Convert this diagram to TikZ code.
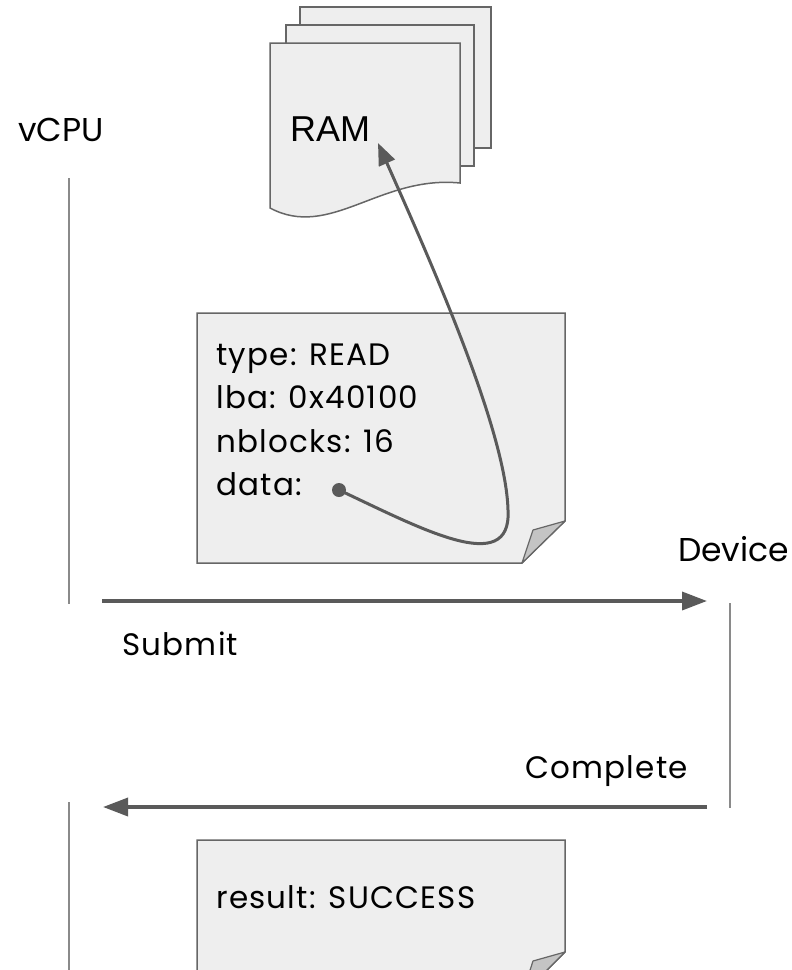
\documentclass[tikz,border=0pt]{standalone}
\usepackage{fontspec}
\setmainfont{Poppins}
\newfontfamily\fieldfont{Poppins}[LetterSpace=4]
\newfontfamily\actorfont{Poppins}
\newfontfamily\ramfont{Liberation Sans}
\usetikzlibrary{arrows.meta}
\definecolor{ink}{HTML}{5A5A5A}
\definecolor{paper}{HTML}{EEEEEE}
\definecolor{edge}{HTML}{666666}
\definecolor{foldgray}{HTML}{C4C4C4}
\definecolor{lifegray}{HTML}{8A8A8A}

\begin{document}
\begin{tikzpicture}[x=1pt,y=-1pt,
  page/.style={fill=paper,draw=edge,line width=1.5pt,line join=miter},
  fold/.style={fill=foldgray,draw=edge,line width=1.2pt,line join=round},
  lifeline/.style={draw=lifegray,line width=1.8pt},
  msg/.style={draw=ink,line width=3.5pt,-{Triangle[length=25pt,width=18pt]}},
  pointer/.style={draw=ink,line width=3pt,-{Triangle[length=22pt,width=17pt]}},
  field/.style={anchor=base west,inner sep=0pt,font=\fieldfont\fontsize{31}{36}\selectfont},
  actor/.style={anchor=base west,inner sep=0pt,font=\actorfont\fontsize{33}{40}\selectfont},
]
\useasboundingbox (0,0) rectangle (792,970);
\clip (0,0) rectangle (792,970);

% stack of RAM pages
\draw[page] (300,7) rectangle (491,148);
\draw[page] (286,25) rectangle (474,166);
\draw[page] (270,43) -- (460,43) -- (460,183)
  .. controls (380,175) and (330,240) .. (270,208) -- cycle;
\node[anchor=base west,inner sep=0pt,font=\ramfont\fontsize{36}{42}\selectfont] (ram) at (290,141) {RAM};
\coordinate (ramtip) at (378,143);

% request descriptor
\draw[page] (197,313) -- (565,313) -- (565,521) -- (522,563) -- (197,563) -- cycle;
\draw[fold] (565,521) -- (533,530) -- (522,563) -- cycle;
\node[field] (type) at (216,365) {type: READ};
\node[field] (lba) at (216,408) {lba: 0x40100};
\node[field] (nblocks) at (216,452) {nblocks: 16};
\node[field] (data) at (216,495) {data:};
\node[circle,fill=ink,inner sep=0pt,minimum size=14pt] (dot) at (339,490) {};

% data pointer into guest RAM
\draw[pointer] (dot.center) .. controls (420,528) and (512,578) .. (508,510)
  .. controls (506,430) and (430,260) .. (ramtip);

% completion descriptor
\draw[page] (197,840) -- (565,840) -- (565,952) -- (522,995) -- (197,995) -- cycle;
\draw[fold] (565,952) -- (533,961) -- (522,995) -- cycle;
\node[field] (result) at (216,908) {result: SUCCESS};

% actors and lifelines
\node[actor] (vcpu) at (18,141) {vCPU};
\node[actor] (device) at (678,561) {Device};
\coordinate (cpuA) at (69,178);
\coordinate (cpuB) at (69,604);
\coordinate (cpuC) at (69,802);
\coordinate (cpuD) at (69,975);
\coordinate (devA) at (730,603);
\coordinate (devB) at (730,808);
\draw[lifeline] (cpuA) -- (cpuB);
\draw[lifeline] (cpuC) -- (cpuD);
\draw[lifeline] (devA) -- (devB);

% messages
\coordinate (subS) at (102,601);
\coordinate (subE) at (707,601);
\coordinate (cmpS) at (707,807);
\coordinate (cmpE) at (103,807);
\draw[msg] (subS) -- (subE);
\draw[msg] (cmpS) -- (cmpE);
\node[field] (submit) at (122,655) {Submit};
\node[field] (complete) at (525,778) {Complete};
\end{tikzpicture}
\end{document}
